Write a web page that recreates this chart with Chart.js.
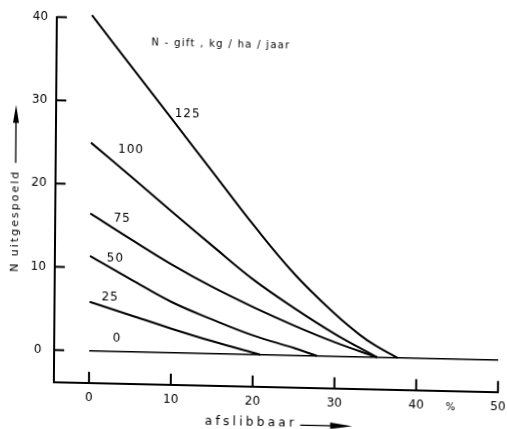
<!DOCTYPE html>
<html>
<head>
<meta charset="utf-8">
<script src="https://cdn.jsdelivr.net/npm/chart.js@4.4.1/dist/chart.umd.min.js"></script>
<style>
  html, body { margin: 0; padding: 0; background: #fff; overflow: hidden; }
  #plate { width: 512px; height: 440px; transform-origin: 0 0; transform: matrix(1, 0.0225, -0.0082, 1, 0, 0); }
  canvas { display: block; }
</style>
</head>
<body>
<div id="plate"><canvas id="chart" width="512" height="440"></canvas></div>
<script>
// N-gift (kg/ha/jaar) for each curve
const doses = ['0', '25', '50', '75', '100', '125'];

// afslibbaar (%) against N uitgespoeld, one pair of arrays per N-gift
const x0 = [0, 50];
const y0 = [0, 0];
const x25 = [0, 5, 10, 15, 20.9];
const y25 = [5.9, 4.4, 2.9, 1.5, 0];
const x50 = [0, 5, 10, 15, 20, 25, 27.85];
const y50 = [11.4, 8.7, 6.1, 4.1, 2.3, 0.9, 0];
const x75 = [0, 5, 10, 15, 20, 25, 30, 35.2];
const y75 = [16.5, 13.5, 10.6, 8.0, 5.7, 3.6, 1.7, 0];
const x100 = [0, 5, 10, 15, 20, 25, 30, 35.2];
const y100 = [25.0, 21.0, 16.9, 12.9, 9.0, 5.7, 2.7, 0];
const x125 = [0, 5, 10, 15, 20, 25, 30, 33, 35, 37.7];
const y125 = [40.3, 34.1, 27.9, 21.7, 15.5, 9.8, 5.1, 2.7, 1.4, 0];

const xTickValues = [0, 10, 20, 30, 40, 50];
const yTickValues = [0, 10, 20, 30, 40];

// where each N-gift number sits beside its curve (data units)
const labelX = [3.4, 2.5, 3.1, 3.9, 4.9, 11.8];
const labelY = [1.5, 6.5, 11.2, 16.0, 24.2, 28.7];

const seriesX = [x0, x25, x50, x75, x100, x125];
const seriesY = [y0, y25, y50, y75, y100, y125];

const FONT = '"DejaVu Sans", "Liberation Sans", sans-serif';

const datasets = doses.map((d, i) => ({
  label: d,
  data: seriesX[i].map((v, k) => ({ x: v, y: seriesY[i][k] })),
  borderColor: '#000',
  borderWidth: i === 0 ? 1.6 : 2,
  pointRadius: 0,
  fill: false,
  tension: 0.4,
  clip: false
}));

const annotate = {
  id: 'annotate',
  afterDraw(chart) {
    const { ctx, chartArea: a, scales: { x, y } } = chart;
    ctx.save();
    ctx.strokeStyle = '#000';
    ctx.fillStyle = '#000';
    ctx.lineWidth = 2;

    // tick marks pointing into the plot
    ctx.beginPath();
    xTickValues.forEach(v => {
      const px = x.getPixelForValue(v);
      ctx.moveTo(px, a.bottom);
      ctx.lineTo(px, a.bottom - 11);
    });
    yTickValues.forEach(v => {
      const py = y.getPixelForValue(v);
      ctx.moveTo(a.left, py);
      ctx.lineTo(a.left + 10, py);
    });
    ctx.stroke();

    // N-gift numbers on the curves
    ctx.font = '12px ' + FONT;
    ctx.letterSpacing = '1px';
    ctx.textAlign = 'center';
    ctx.textBaseline = 'middle';
    doses.forEach((d, i) => {
      ctx.fillText(d, x.getPixelForValue(labelX[i]), y.getPixelForValue(labelY[i]));
    });

    // heading of the curve family
    ctx.font = '10px ' + FONT;
    ctx.letterSpacing = '1.3px';
    ctx.textAlign = 'left';
    ctx.fillText('N - gift , kg / ha / jaar', x.getPixelForValue(7.3), y.getPixelForValue(37.1));

    // percent sign between the last two x labels
    ctx.font = '10px ' + FONT;
    ctx.letterSpacing = '0px';
    ctx.textAlign = 'center';
    ctx.fillText('%', x.getPixelForValue(44.2), a.bottom + 17);

    // x-axis title with arrow
    ctx.font = '12px ' + FONT;
    ctx.letterSpacing = '3.3px';
    ctx.textAlign = 'center';
    const tx = x.getPixelForValue(19.85);
    const ty = a.bottom + 36.5;
    ctx.fillText('afslibbaar', tx, ty);
    const tr = tx + ctx.measureText('afslibbaar').width / 2;
    ctx.lineWidth = 1.3;
    ctx.beginPath();
    ctx.moveTo(tr + 3, ty + 1);
    ctx.lineTo(tr + 36, ty + 1);
    ctx.stroke();
    ctx.beginPath();
    ctx.moveTo(tr + 33, ty - 2.3);
    ctx.lineTo(tr + 55, ty + 1);
    ctx.lineTo(tr + 33, ty + 4.3);
    ctx.closePath();
    ctx.fill();

    // y-axis title with arrow
    ctx.save();
    ctx.translate(17.5, y.getPixelForValue(15.4));
    ctx.rotate(-Math.PI / 2);
    ctx.font = '11px ' + FONT;
    ctx.letterSpacing = '2px';
    ctx.textAlign = 'center';
    ctx.fillText('N uitgespoeld', 0, 0);
    const half = ctx.measureText('N uitgespoeld').width / 2;
    ctx.beginPath();
    ctx.moveTo(half + 7, -0.5);
    ctx.lineTo(half + 50, -0.5);
    ctx.stroke();
    ctx.beginPath();
    ctx.moveTo(half + 47, -3.5);
    ctx.lineTo(half + 65, -0.5);
    ctx.lineTo(half + 47, 2.5);
    ctx.closePath();
    ctx.fill();
    ctx.restore();

    ctx.restore();
  }
};

new Chart(document.getElementById('chart'), {
  type: 'line',
  data: { datasets },
  options: {
    responsive: false,
    animation: false,
    devicePixelRatio: 1,
    layout: { padding: { top: 15.7, right: 10.8, bottom: 11.2, left: 0.1 } },
    plugins: { legend: { display: false }, tooltip: { enabled: false } },
    scales: {
      x: {
        type: 'linear',
        min: -4.28,
        max: 50,
        afterBuildTicks: s => { s.ticks = xTickValues.map(v => ({ value: v })); },
        afterFit: s => { s.height = 48; s.paddingLeft = 0; s.paddingRight = 0; },
        grid: { display: false, drawTicks: false },
        border: { display: true, color: '#000', width: 2 },
        ticks: { color: '#000', font: { family: FONT, size: 12 }, padding: 8, maxRotation: 0, autoSkip: false }
      },
      y: {
        type: 'linear',
        min: -3.84,
        max: 40,
        afterBuildTicks: s => { s.ticks = yTickValues.map(v => ({ value: v })); },
        afterFit: s => { s.width = 57; s.paddingTop = 0; s.paddingBottom = 0; },
        grid: { display: false, drawTicks: false },
        border: { display: true, color: '#000', width: 2 },
        ticks: { color: '#000', font: { family: FONT, size: 12 }, padding: 9, crossAlign: 'center', autoSkip: false }
      }
    }
  },
  plugins: [annotate]
});
</script>
</body>
</html>
